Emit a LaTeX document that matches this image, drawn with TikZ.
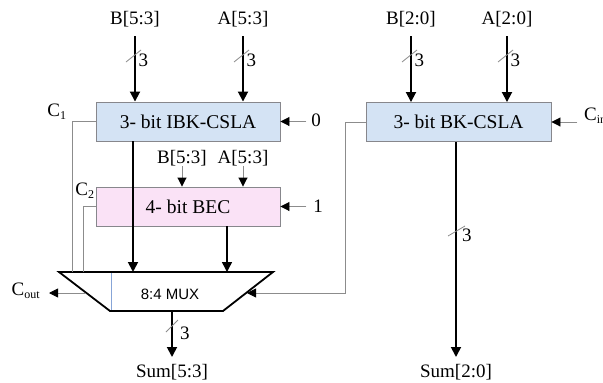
\documentclass[tikz,border=0pt]{standalone}
\usepackage{fontspec}
\setmainfont{Liberation Serif}
\newfontfamily\muxfont{Liberation Sans}
\usetikzlibrary{arrows.meta}

\definecolor{adderblue}{RGB}{212,227,244}
\definecolor{becpink}{RGB}{250,226,246}
\definecolor{edgegray}{RGB}{135,135,140}
\definecolor{wiregray}{RGB}{140,140,140}
\definecolor{selblue}{RGB}{135,165,215}

\tikzset{
  lbl/.style={font=\fontsize{19}{22}\selectfont, inner sep=0pt},
  block/.style={draw=edgegray, line width=0.9pt, minimum width=184pt,
    minimum height=39pt, inner sep=0pt, font=\fontsize{19.5}{22}\selectfont},
  bus/.style={line width=1.8pt, -{Triangle[length=10pt,width=10pt]}},
  thinbus/.style={line width=1.5pt, -{Triangle[length=10pt,width=10pt]}},
  ctl/.style={draw=wiregray, line width=0.9pt,
    -{Triangle[length=9pt,width=9pt,color=black]}},
  wire/.style={draw=wiregray, line width=0.9pt},
  buswidth/.style={draw=wiregray, line width=0.8pt}
}

\begin{document}
\begin{tikzpicture}[x=1pt,y=-1pt]
\useasboundingbox (0,0) rectangle (603,383);

% adder blocks
\node[block, fill=adderblue] (ibk) at (188,121.5) {3- bit IBK-CSLA};
\node[block, fill=becpink]   (bec) at (188,206.5) {4- bit BEC};
\node[block, fill=adderblue, minimum width=185pt] (bk) at (458.5,122) {3- bit BK-CSLA};

% 8:4 multiplexer
\coordinate (mtl) at (59,272);
\coordinate (mtr) at (273,272);
\coordinate (mbr) at (223,311);
\coordinate (mbl) at (110,311);
\draw[selblue, line width=0.9pt] (111,272) -- (111,311);
\draw[line width=1.8pt, line join=miter] (mtl) -- (mtr) -- (mbr) -- (mbl) -- cycle;
\node[font=\muxfont\fontsize{15}{18}\selectfont, inner sep=0pt] (mux) at (170,294) {8:4 MUX};

% primary inputs
\node[lbl] (b53) at (135,19) {B[5:3]};
\node[lbl] (a53) at (243,19) {A[5:3]};
\node[lbl] (b20) at (411,19) {B[2:0]};
\node[lbl] (a20) at (507,19) {A[2:0]};
\coordinate (ib) at (135,36);
\coordinate (ia) at (243,36);
\coordinate (kb) at (411,36);
\coordinate (ka) at (507,36);
\draw[bus] (ib) -- (ibk.north -| ib);
\draw[bus] (ia) -- (ibk.north -| ia);
\draw[bus] (kb) -- (bk.north -| kb);
\draw[bus] (ka) -- (bk.north -| ka);

% bus-width marks on the inputs
\foreach \p in {ib,ia,kb,ka}{
  \draw[buswidth] ([shift={(-9pt,-26pt)}]\p) -- ([shift={(6pt,-14pt)}]\p);
  \node[lbl, anchor=west] at ([shift={(3.5pt,-24pt)}]\p) {3};
}

% BEC operands
\node[lbl] (b53b) at (182,158) {B[5:3]};
\node[lbl] (a53b) at (243,158) {A[5:3]};
\coordinate (eb) at (182,166);
\coordinate (ea) at (243,166);
\draw[ctl] (eb) -- (bec.north -| eb);
\draw[ctl] (ea) -- (bec.north -| ea);

% carry-in constants
\node[lbl] (zero) at (316,120) {0};
\node[lbl] (one)  at (318,206) {1};
\draw[ctl] ([xshift=26pt]ibk.east) -- (ibk.east);
\draw[ctl] ([xshift=26pt]bec.east) -- (bec.east);
\node[lbl, anchor=west] (cin) at (584,116) {C\textsubscript{\fontsize{12}{14}\selectfont in}};
\draw[ctl] ([xshift=26pt]bk.east) -- (bk.east);

% sums into the multiplexer
\coordinate (m1) at (133,272);
\coordinate (m2) at (227,272);
\draw[bus] (ibk.south -| m1) -- (m1);
\draw[thinbus] (bec.south -| m2) -- (m2);

% carry outputs
\node[lbl] (c1) at (57,112) {C\textsubscript{\fontsize{12}{14}\selectfont 1}};
\node[lbl] (c2) at (85,191) {C\textsubscript{\fontsize{12}{14}\selectfont 2}};
\coordinate (c1m) at (72,272);
\coordinate (c2m) at (83,272);
\draw[wire] (ibk.west) -| (c1m);
\draw[wire] (bec.west) -| (c2m);

% select line from the lower adder
\coordinate (sel) at (247,293);
\draw[ctl] (bk.west) -- ++(-20,0) |- (sel);

% carry out
\node[lbl] (cout) at (26,291) {C\textsubscript{\fontsize{12}{14}\selectfont out}};
\coordinate (co) at (86,293);
\coordinate (coe) at (49,293);
\draw[ctl] (co) -- (coe);

% sum outputs
\node[lbl] (s53) at (172,372) {Sum[5:3]};
\node[lbl] (s20) at (456,372) {Sum[2:0]};
\coordinate (mo) at (172,311);
\coordinate (so) at (456,142);
\draw[bus] (mo) -- (mo |- 0,357);
\draw[bus] (so) -- (so |- 0,357);
\draw[buswidth] (166,332) -- (178,320);
\node[lbl, anchor=west] at (180,333) {3};
\draw[buswidth] (448,236) -- (465,226);
\node[lbl, anchor=west] at (462,235) {3};
\end{tikzpicture}
\end{document}
